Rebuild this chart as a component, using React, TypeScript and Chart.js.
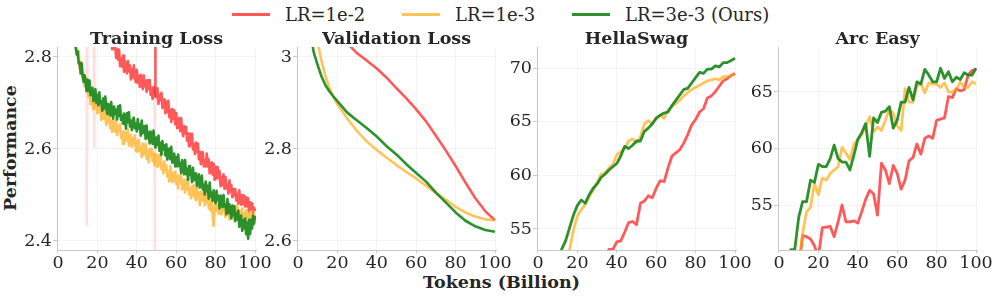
import React, { useEffect, useRef } from 'react';
import { Chart, registerables } from 'chart.js';

Chart.register(...registerables);

const FONT = "'DejaVu Serif', serif";
const TEXT = '#262626';
const RED = 'rgba(255,0,0,0.65)';
const RED_PALE = 'rgba(255,0,0,0.12)';
const ORANGE = 'rgba(255,165,0,0.65)';
const GREEN = 'rgba(34,139,34,0.95)';

const SERIES_LABELS = ['LR=1e-2', 'LR=1e-3', 'LR=3e-3 (Ours)'];
const PANEL_TITLES = ['Training Loss', 'Validation Loss', 'HellaSwag', 'Arc Easy'];
const X_TICKS = [0, 20, 40, 60, 80, 100];
const Y_TICKS = [[2.4, 2.6, 2.8], [2.6, 2.8, 3.0], [55, 60, 65, 70], [55, 60, 65]];
const Y_RANGES = [[2.3804, 2.8217], [2.5804, 3.0217], [53.043, 71.957], [51.02, 68.98]];

// Training loss: logged every 0.5B tokens (index * 0.5 = tokens, 0..100)
const TRAIN_STEP = 0.5;
const TRAIN_GREEN = [
  3.22, 3.18, 3.15, 3.12, 3.10, 3.07, 3.04, 3.015, 2.99, 2.97,
  2.95, 2.93, 2.91, 2.89, 2.87, 2.855, 2.84, 2.83, 2.82, 2.805,
  2.812, 2.786, 2.788, 2.764, 2.786, 2.759, 2.746, 2.760, 2.747, 2.726,
  2.751, 2.726, 2.749, 2.717, 2.723, 2.733, 2.704, 2.723, 2.730, 2.700,
  2.718, 2.695, 2.723, 2.699, 2.704, 2.683, 2.710, 2.688, 2.714, 2.689,
  2.676, 2.698, 2.691, 2.673, 2.702, 2.676, 2.666, 2.692, 2.676, 2.685,
  2.664, 2.693, 2.672, 2.695, 2.663, 2.673, 2.655, 2.677, 2.670, 2.644,
  2.678, 2.658, 2.680, 2.649, 2.661, 2.641, 2.665, 2.668, 2.645, 2.655,
  2.638, 2.665, 2.644, 2.653, 2.629, 2.662, 2.634, 2.640, 2.650, 2.622,
  2.651, 2.624, 2.636, 2.612, 2.638, 2.628, 2.611, 2.640, 2.613, 2.603,
  2.625, 2.609, 2.629, 2.596, 2.613, 2.587, 2.617, 2.599, 2.608, 2.586,
  2.610, 2.577, 2.595, 2.601, 2.578, 2.605, 2.570, 2.578, 2.590, 2.562,
  2.582, 2.562, 2.588, 2.563, 2.569, 2.548, 2.576, 2.566, 2.545, 2.576,
  2.545, 2.557, 2.533, 2.563, 2.544, 2.554, 2.528, 2.559, 2.532, 2.538,
  2.547, 2.519, 2.537, 2.545, 2.516, 2.523, 2.542, 2.512, 2.522, 2.501,
  2.529, 2.508, 2.520, 2.492, 2.527, 2.497, 2.505, 2.487, 2.510, 2.493,
  2.482, 2.509, 2.489, 2.498, 2.471, 2.499, 2.487, 2.474, 2.500, 2.475,
  2.479, 2.458, 2.491, 2.461, 2.480, 2.464, 2.449, 2.477, 2.456, 2.476,
  2.443, 2.461, 2.447, 2.466, 2.431, 2.448, 2.455, 2.422, 2.445, 2.427,
  2.449, 2.415, 2.440, 2.405, 2.446, 2.415, 2.446, 2.427, 2.455, 2.437,
  2.455,
];
const TRAIN_ORANGE = [
  3.30, 3.26, 3.22, 3.185, 3.15, 3.115, 3.08, 3.05, 3.02, 2.995,
  2.97, 2.95, 2.93, 2.905, 2.885, 2.865, 2.848, 2.835, 2.825, 2.815,
  2.802, 2.813, 2.775, 2.787, 2.789, 2.757, 2.762, 2.736, 2.756, 2.734,
  2.747, 2.714, 2.727, 2.697, 2.719, 2.706, 2.686, 2.714, 2.689, 2.695,
  2.677, 2.705, 2.681, 2.692, 2.663, 2.683, 2.666, 2.687, 2.669, 2.652,
  2.677, 2.657, 2.680, 2.645, 2.660, 2.637, 2.663, 2.656, 2.637, 2.663,
  2.630, 2.650, 2.638, 2.654, 2.624, 2.636, 2.611, 2.639, 2.618, 2.636,
  2.618, 2.642, 2.607, 2.625, 2.631, 2.605, 2.623, 2.610, 2.630, 2.595,
  2.617, 2.594, 2.620, 2.597, 2.603, 2.582, 2.612, 2.588, 2.602, 2.611,
  2.579, 2.596, 2.571, 2.600, 2.584, 2.601, 2.573, 2.590, 2.565, 2.589,
  2.584, 2.561, 2.587, 2.564, 2.588, 2.556, 2.568, 2.547, 2.573, 2.555,
  2.564, 2.539, 2.551, 2.529, 2.563, 2.539, 2.528, 2.549, 2.531, 2.551,
  2.524, 2.540, 2.514, 2.543, 2.527, 2.544, 2.512, 2.528, 2.533, 2.505,
  2.533, 2.512, 2.532, 2.501, 2.515, 2.493, 2.519, 2.498, 2.522, 2.498,
  2.488, 2.514, 2.495, 2.506, 2.478, 2.507, 2.487, 2.494, 2.508, 2.477,
  2.500, 2.483, 2.504, 2.471, 2.488, 2.466, 2.494, 2.457, 2.433, 2.466,
  2.490, 2.466, 2.476, 2.459, 2.488, 2.466, 2.458, 2.480, 2.465, 2.475,
  2.452, 2.480, 2.458, 2.474, 2.447, 2.467, 2.476, 2.451, 2.463, 2.445,
  2.472, 2.450, 2.477, 2.454, 2.444, 2.465, 2.456, 2.471, 2.445, 2.461,
  2.443, 2.467, 2.449, 2.463, 2.438, 2.459, 2.449, 2.465, 2.442, 2.456,
  2.455,
];
const TRAIN_RED = [
  3.55, 3.515, 3.48, 3.445, 3.41, 3.38, 3.35, 3.325, 3.30, 3.275,
  3.25, 3.23, 3.21, 3.19, 3.17, 3.155, 3.14, 3.125, 3.11, 3.095,
  3.08, 3.07, 3.06, 3.045, 3.03, 3.02, 3.01, 3.00, 2.99, 2.98,
  2.97, 2.962, 2.955, 2.947, 2.94, 2.932, 2.925, 2.917, 2.91, 2.905,
  2.90, 2.893, 2.885, 2.88, 2.875, 2.87, 2.865, 2.86, 2.855, 2.85,
  2.860, 2.839, 2.859, 2.830, 2.839, 2.817, 2.836, 2.817, 2.831, 2.798,
  2.816, 2.794, 2.816, 2.780, 2.796, 2.779, 2.803, 2.768, 2.791, 2.778,
  2.764, 2.791, 2.769, 2.782, 2.751, 2.774, 2.755, 2.782, 2.754, 2.745,
  2.772, 2.744, 2.759, 2.735, 2.761, 2.748, 2.730, 2.760, 2.736, 2.748,
  2.724, 2.750, 2.731, 2.750, 2.718, 2.733, 2.709, 2.734, 2.712, 2.733,
  2.712, 2.732, 2.698, 2.718, 2.706, 2.722, 2.689, 2.703, 2.708, 2.678,
  2.703, 2.680, 2.705, 2.669, 2.685, 2.659, 2.687, 2.666, 2.684, 2.654,
  2.678, 2.645, 2.661, 2.667, 2.639, 2.667, 2.640, 2.628, 2.650, 2.634,
  2.648, 2.618, 2.634, 2.606, 2.633, 2.613, 2.633, 2.599, 2.610, 2.589,
  2.614, 2.594, 2.612, 2.578, 2.594, 2.567, 2.591, 2.593, 2.562, 2.575,
  2.562, 2.590, 2.562, 2.577, 2.547, 2.563, 2.571, 2.544, 2.568, 2.533,
  2.561, 2.536, 2.561, 2.537, 2.552, 2.519, 2.539, 2.521, 2.545, 2.513,
  2.539, 2.515, 2.523, 2.503, 2.532, 2.507, 2.521, 2.495, 2.513, 2.499,
  2.513, 2.488, 2.502, 2.481, 2.510, 2.490, 2.479, 2.500, 2.480, 2.499,
  2.475, 2.495, 2.475, 2.493, 2.464, 2.484, 2.469, 2.482, 2.460, 2.472,
  2.465,
];
// loss spikes of the LR=1e-2 run (tokens, loss)
const RED_SPIKE_X = [14.6, 18.4, 49.2, 49.3, 49.4];
const RED_SPIKE_Y = [2.435, 2.605, 2.33, 2.72, 2.95];
const PALE_SPIKES = [14.6, 18.4, 49.2];

// Validation loss
const VAL_X = [0, 2, 4, 6, 8, 10, 12, 14, 16, 18, 20, 25, 30, 35, 40, 45, 50, 55, 60, 65, 70, 75, 80, 85, 90, 95, 100];
const VAL_GREEN = [3.40, 3.25, 3.14, 3.06, 3.01, 2.982, 2.957, 2.938, 2.925, 2.914, 2.904, 2.879, 2.862, 2.845, 2.827, 2.806, 2.788, 2.767, 2.748, 2.729, 2.705, 2.684, 2.662, 2.644, 2.632, 2.624, 2.62];
const VAL_ORANGE = [3.55, 3.38, 3.25, 3.15, 3.08, 3.03, 2.99, 2.957, 2.932, 2.913, 2.897, 2.866, 2.839, 2.816, 2.798, 2.781, 2.765, 2.75, 2.736, 2.72, 2.704, 2.69, 2.674, 2.662, 2.653, 2.647, 2.645];
const VAL_RED = [3.75, 3.62, 3.52, 3.44, 3.37, 3.31, 3.26, 3.21, 3.17, 3.13, 3.10, 3.03, 3.008, 2.992, 2.975, 2.955, 2.932, 2.91, 2.886, 2.86, 2.829, 2.797, 2.763, 2.727, 2.693, 2.665, 2.645];

// Benchmarks, evaluated every 2B tokens
const EVAL_X = [0, 2, 4, 6, 8, 10, 12, 14, 16, 18, 20, 22, 24, 26, 28, 30, 32, 34, 36, 38, 40, 42, 44, 46, 48, 50, 52, 54, 56, 58, 60, 62, 64, 66, 68, 70, 72, 74, 76, 78, 80, 82, 84, 86, 88, 90, 92, 94, 96, 98, 100];
const HS_GREEN = [45.5, 46.3, 47.2, 48.3, 49.6, 51.4, 53.1, 53.9, 55.1, 56.3, 57.2, 57.7, 57.4, 58.2, 58.8, 59.2, 59.8, 60.1, 60.5, 60.8, 61.1, 61.8, 62.7, 62.5, 62.8, 63.2, 63.2, 64.1, 64.4, 64.8, 65.3, 65.6, 65.8, 65.9, 66.5, 67.0, 67.5, 68.0, 68.1, 68.6, 69.1, 69.6, 69.5, 69.9, 69.9, 70.2, 70.1, 70.5, 70.5, 70.7, 70.9];
const HS_ORANGE = [43.0, 44.2, 45.5, 46.7, 48.0, 49.2, 50.5, 51.8, 53.0, 54.9, 56.2, 56.8, 57.3, 58.0, 58.6, 59.3, 60.1, 60.2, 60.7, 61.0, 61.9, 62.2, 62.5, 63.2, 63.4, 63.0, 63.6, 64.8, 65.1, 64.8, 65.4, 65.6, 65.3, 66.1, 66.4, 66.7, 67.0, 67.4, 67.7, 68.0, 68.2, 68.4, 68.6, 68.8, 68.9, 69.0, 68.9, 69.2, 69.2, 69.3, 69.4];
const HS_RED = [40.0, 40.6, 41.3, 42.0, 42.7, 43.4, 44.1, 44.8, 45.5, 46.2, 46.9, 47.6, 48.3, 49.0, 49.8, 50.6, 51.4, 52.3, 53.1, 53.1, 53.8, 53.9, 54.7, 55.6, 55.7, 55.4, 57.4, 57.6, 58.1, 57.9, 58.8, 59.5, 59.4, 60.7, 61.8, 62.1, 62.4, 63.0, 63.8, 64.7, 65.2, 65.9, 66.2, 67.2, 67.4, 67.8, 68.3, 68.8, 69.0, 69.3, 69.5];
const ARC_GREEN = [48.5, 49.3, 50.2, 51.05, 51.05, 53.9, 55.3, 55.3, 57.2, 57.0, 58.6, 58.4, 58.4, 59.1, 60.3, 59.1, 58.8, 58.8, 58.1, 59.4, 60.8, 61.4, 62.2, 59.3, 62.7, 62.3, 63.2, 63.3, 63.7, 61.8, 62.5, 64.1, 64.1, 65.4, 64.3, 65.9, 65.7, 67.0, 66.5, 65.9, 65.9, 67.1, 66.2, 66.8, 65.9, 66.3, 66.1, 66.7, 66.5, 66.5, 67.1];
const ARC_ORANGE = [46.0, 46.8, 47.5, 48.2, 49.0, 49.7, 52.5, 54.4, 54.8, 56.9, 55.9, 57.4, 57.2, 57.8, 58.1, 58.4, 60.1, 59.6, 59.0, 60.4, 60.8, 61.2, 61.9, 62.8, 61.5, 61.9, 61.6, 62.5, 63.5, 63.1, 62.0, 61.6, 65.3, 64.1, 64.1, 65.5, 65.8, 64.9, 65.8, 65.7, 65.7, 65.4, 65.8, 65.0, 65.0, 65.2, 65.9, 65.4, 65.4, 65.9, 65.7];
const ARC_RED = [45.0, 45.8, 46.6, 47.4, 48.3, 49.3, 52.3, 52.2, 52.0, 51.4, 50.4, 53.0, 53.05, 53.1, 52.2, 53.5, 55.0, 53.5, 53.5, 53.6, 53.4, 54.4, 55.5, 56.3, 56.0, 54.1, 58.7, 58.1, 56.9, 58.5, 57.8, 56.4, 57.2, 58.9, 59.2, 60.4, 59.5, 60.9, 61.1, 60.9, 62.5, 62.6, 62.7, 64.6, 64.5, 65.3, 65.1, 65.2, 66.5, 66.9, 67.0];

// ---- layout ----
const PLOT_LEFT = [57, 297, 537, 778];
const PLOT_W = 199;
const Y_AXIS_W = 45;
const PAD_R = 24;
const CANVAS_TOP = 20;
const PAD_TOP = 27;
const PLOT_H = 203;
const X_AXIS_H = 30;
const CANVAS_W = Y_AXIS_W + PLOT_W + PAD_R;
const CANVAS_H = PAD_TOP + PLOT_H + X_AXIS_H;

const pts = (xs: number[], ys: number[]) => ys.map((y, i) => ({ x: xs[i], y }));
const stepPts = (ys: number[]) => ys.map((y, i) => ({ x: i * TRAIN_STEP, y }));

function lineDs(label: string, color: string, data: any[], width: number, extra: any = {}) {
  return {
    label,
    data,
    borderColor: color,
    backgroundColor: color,
    borderWidth: width,
    pointRadius: 0,
    pointHoverRadius: 0,
    tension: 0,
    fill: false,
    clip: 0,
    borderJoinStyle: 'round',
    ...extra,
  };
}

function buildDatasets(p: number) {
  if (p === 0) {
    const red = stepPts(TRAIN_RED)
      .concat(pts(RED_SPIKE_X, RED_SPIKE_Y))
      .sort((a, b) => a.x - b.x);
    const pale = (x: number) => PALE_SPIKES.some((s) => Math.abs(s - x) < 1e-6);
    return [
      lineDs(SERIES_LABELS[2], GREEN, stepPts(TRAIN_GREEN), 2.6),
      lineDs(SERIES_LABELS[1], ORANGE, stepPts(TRAIN_ORANGE), 2.6),
      lineDs(SERIES_LABELS[0], RED, red, 2.6, {
        segment: {
          borderColor: (ctx: any) => (pale(ctx.p0.parsed.x) || pale(ctx.p1.parsed.x) ? RED_PALE : undefined),
        },
      }),
    ];
  }
  if (p === 1) {
    return [
      lineDs(SERIES_LABELS[2], GREEN, pts(VAL_X, VAL_GREEN), 2.6),
      lineDs(SERIES_LABELS[1], ORANGE, pts(VAL_X, VAL_ORANGE), 2.6),
      lineDs(SERIES_LABELS[0], RED, pts(VAL_X, VAL_RED), 2.6),
    ];
  }
  if (p === 2) {
    return [
      lineDs(SERIES_LABELS[2], GREEN, pts(EVAL_X, HS_GREEN), 2.8),
      lineDs(SERIES_LABELS[1], ORANGE, pts(EVAL_X, HS_ORANGE), 2.8),
      lineDs(SERIES_LABELS[0], RED, pts(EVAL_X, HS_RED), 2.8),
    ];
  }
  return [
    lineDs(SERIES_LABELS[2], GREEN, pts(EVAL_X, ARC_GREEN), 2.8),
    lineDs(SERIES_LABELS[1], ORANGE, pts(EVAL_X, ARC_ORANGE), 2.8),
    lineDs(SERIES_LABELS[0], RED, pts(EVAL_X, ARC_RED), 2.8),
  ];
}

const fmt = (v: number) => String(Number(v.toFixed(2)));

function Panel({ p }: { p: number }) {
  const ref = useRef<HTMLCanvasElement>(null);
  useEffect(() => {
    const title = PANEL_TITLES[p];
    const titlePlugin = {
      id: 'panelTitle',
      afterDraw(chart: any) {
        const { ctx, chartArea } = chart;
        ctx.save();
        ctx.font = `bold 17.5px ${FONT}`;
        ctx.fillStyle = TEXT;
        ctx.textAlign = 'center';
        ctx.textBaseline = 'alphabetic';
        ctx.fillText(title, (chartArea.left + chartArea.right) / 2, chartArea.top - 3.5);
        ctx.restore();
      },
    };
    const tickFont = { family: FONT, size: 17.5 };
    const chart = new Chart(ref.current as HTMLCanvasElement, {
      type: 'line',
      data: { datasets: buildDatasets(p) as any },
      options: {
        animation: false,
        responsive: false,
        events: [],
        layout: { padding: { left: 0, right: PAD_R, top: PAD_TOP, bottom: 0 } },
        plugins: { legend: { display: false }, tooltip: { enabled: false }, title: { display: false } },
        scales: {
          x: {
            type: 'linear',
            min: -0.5,
            max: 100.5,
            afterBuildTicks: (s: any) => {
              s.ticks = X_TICKS.map((v) => ({ value: v }));
            },
            afterFit: (s: any) => {
              s.height = X_AXIS_H;
            },
            grid: { color: 'rgba(0,0,0,0.045)', lineWidth: 1, tickLength: 3, tickColor: '#c8c8c8' },
            border: { color: '#c8c8c8', width: 1 },
            ticks: { font: tickFont, color: TEXT, padding: 0, maxRotation: 0, autoSkip: false, callback: (v: any) => fmt(Number(v)) },
          },
          y: {
            type: 'linear',
            min: Y_RANGES[p][0],
            max: Y_RANGES[p][1],
            afterBuildTicks: (s: any) => {
              s.ticks = Y_TICKS[p].map((v) => ({ value: v }));
            },
            afterFit: (s: any) => {
              s.width = Y_AXIS_W;
            },
            grid: { color: 'rgba(0,0,0,0.045)', lineWidth: 1, tickLength: 4, tickColor: '#c8c8c8' },
            border: { color: '#c8c8c8', width: 1 },
            ticks: { font: tickFont, color: TEXT, padding: 1, autoSkip: false, callback: (v: any) => fmt(Number(v)) },
          },
        },
      } as any,
      plugins: [titlePlugin],
    });
    return () => chart.destroy();
  }, [p]);
  return (
    <canvas
      ref={ref}
      width={CANVAS_W}
      height={CANVAS_H}
      style={{ position: 'absolute', left: PLOT_LEFT[p] - Y_AXIS_W, top: CANVAS_TOP, width: CANVAS_W, height: CANVAS_H }}
    />
  );
}

const LEGEND_COLORS = [RED, ORANGE, GREEN];
const LEGEND_LINE_X = [232, 402, 572];
const LEGEND_TEXT_X = [285, 455, 625];

export default function App() {
  return (
    <div style={{ position: 'fixed', left: 0, top: 0, width: 996, height: 296, background: '#fff', overflow: 'hidden', fontFamily: FONT, color: TEXT }}>
      {SERIES_LABELS.map((lab, i) => (
        <React.Fragment key={lab}>
          <div style={{ position: 'absolute', left: LEGEND_LINE_X[i], top: 13, width: 38, height: 3, background: LEGEND_COLORS[i] }} />
          <div style={{ position: 'absolute', left: LEGEND_TEXT_X[i], top: 5.5, fontSize: 18, lineHeight: '18px', whiteSpace: 'nowrap' }}>{lab}</div>
        </React.Fragment>
      ))}
      <div
        style={{ position: 'absolute', left: 10.6, top: 148, fontSize: 17.5, lineHeight: '17.5px', fontWeight: 'bold', whiteSpace: 'nowrap', transform: 'translate(-50%, -50%) rotate(-90deg)' }}
      >
        Performance
      </div>
      <div style={{ position: 'absolute', left: 501.5, top: 273.5, fontSize: 17.5, lineHeight: '17.5px', fontWeight: 'bold', whiteSpace: 'nowrap', transform: 'translateX(-50%)' }}>
        Tokens (Billion)
      </div>
      {[0, 1, 2, 3].map((p) => (
        <Panel key={p} p={p} />
      ))}
    </div>
  );
}
